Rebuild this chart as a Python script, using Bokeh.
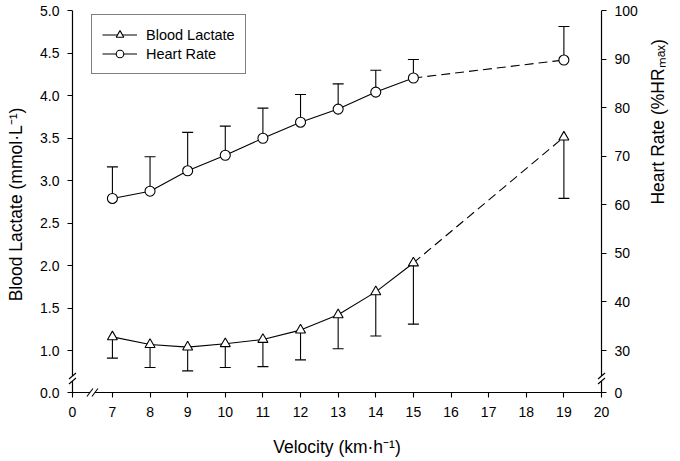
import math
from bokeh.plotting import figure
from bokeh.models import (Range1d, LinearAxis, FixedTicker, Legend, LegendItem)
from bokeh.embed import file_html
from bokeh.resources import INLINE

# ---------------- data ----------------
velocity = [7, 8, 9, 10, 11, 12, 13, 14, 15, 19]
lactate = [1.16, 1.07, 1.04, 1.08, 1.13, 1.24, 1.42, 1.69, 2.03, 3.51]
lactate_sd = [0.25, 0.27, 0.28, 0.28, 0.32, 0.35, 0.40, 0.52, 0.72, 0.72]
heart_rate = [61.3, 62.8, 67.0, 70.2, 73.7, 77.0, 79.7, 83.2, 86.1, 89.8]
heart_rate_sd = [6.5, 7.1, 7.9, 6.0, 6.2, 5.7, 5.2, 4.5, 3.8, 6.9]

x_ticks = [7, 8, 9, 10, 11, 12, 13, 14, 15, 16, 17, 18, 19, 20]
lactate_ticks = [1.0, 1.5, 2.0, 2.5, 3.0, 3.5, 4.0, 4.5, 5.0]
hr_ticks = [30, 40, 50, 60, 70, 80, 90, 100]
x_break_label = "0"
lactate_break_label = "0.0"
hr_break_label = "0"

x_title = "Velocity (km·h⁻¹)"
lactate_title = "Blood Lactate (mmol·L⁻¹)"
hr_title = "Heart Rate (%HRₘₐₓ)"

# ---------------- layout (canvas px) ----------------
W, H = 680, 461
AX_L, AX_R, AX_T, AX_B = 72, 602, 10, 392     # where the axis lines are drawn
PAD = 6                                         # frame reaches a little past the axis lines
BREAK_PX = 40                                   # gap between "0" and 7 on x
BREAK_PY = 42                                   # gap between "0.0" and 1.0 on y

sx = (AX_R - AX_L - BREAK_PX) / (20 - 7)
x_start = 7 - BREAK_PX / sx
sy = (AX_B - AX_T - BREAK_PY) / (5.0 - 1.0)
y_start = 1.0 - BREAK_PY / sy
hr_scale = (100 - 30) / (5.0 - 1.0)


def to_hr(v):
    return 30 + (v - 1.0) * hr_scale


xr = Range1d(x_start - PAD / sx, 20 + PAD / sx)
yr = Range1d(y_start - PAD / sy, 5.0)
hr_start = to_hr(y_start)

FL, FR, FT, FB = AX_L - PAD, AX_R + PAD, AX_T, AX_B + PAD


def xd(cx):
    return xr.start + (cx - FL) / sx


def yd(cy):
    return yr.start + (FB - cy) / sy


FONT = "Liberation Sans"
p = figure(width=W, height=H, x_range=xr, y_range=yr, output_backend="svg",
           toolbar_location=None, min_border_left=FL, min_border_right=W - FR,
           min_border_top=FT, min_border_bottom=H - FB)
p.extra_y_ranges = {"hr": Range1d(to_hr(yr.start), to_hr(yr.end))}
p.outline_line_color = None
p.xgrid.visible = False
p.ygrid.visible = False
p.background_fill_color = "white"
p.border_fill_color = "white"


def style_axis(ax, standoff, title, title_standoff):
    ax.axis_line_color = None            # drawn below, with the break
    ax.major_tick_line_color = "black"
    ax.major_tick_line_width = 1.1
    ax.major_tick_in = PAD               # ticks start at the drawn axis line
    ax.major_tick_out = 5 - PAD
    ax.minor_tick_out = 0
    ax.minor_tick_in = 0
    ax.minor_tick_line_color = None
    ax.major_label_text_font = FONT
    ax.major_label_text_font_size = "14px"
    ax.major_label_text_color = "black"
    ax.major_label_standoff = standoff
    ax.axis_label = title
    ax.axis_label_text_font = FONT
    ax.axis_label_text_font_size = "17.5px"
    ax.axis_label_text_font_style = "normal"
    ax.axis_label_text_color = "black"
    ax.axis_label_standoff = title_standoff


xa = p.xaxis[0]
xa.ticker = FixedTicker(ticks=[x_start] + x_ticks)
ov = {x_start: x_break_label}
ov.update({t: str(t) for t in x_ticks})
xa.major_label_overrides = ov
style_axis(xa, 8, x_title, 17)

ya = p.yaxis[0]
ya.ticker = FixedTicker(ticks=[y_start] + lactate_ticks)
ov = {y_start: lactate_break_label}
ov.update({t: "%.1f" % t for t in lactate_ticks})
ya.major_label_overrides = ov
style_axis(ya, 7, lactate_title, 11)

ra = LinearAxis(y_range_name="hr", ticker=FixedTicker(ticks=[hr_start] + hr_ticks))
ov = {hr_start: hr_break_label}
ov.update({t: str(t) for t in hr_ticks})
ra.major_label_overrides = ov
style_axis(ra, 7, hr_title, 17)
ra.axis_label_orientation = math.pi / 2   # read bottom to top, like the left title
p.add_layout(ra, "right")

# ---------------- axis lines with breaks ----------------
AXW = 1.2
gy0, gy1 = 378 + 2.5, 378 - 2.5       # vertical-axis break (canvas y)
gx0, gx1 = 92 - 2.5, 92 + 2.5         # x-axis break (canvas x)
ax_x0 = [xd(AX_L), xd(AX_L), xd(AX_R), xd(AX_R), xd(AX_L), xd(gx1)]
ax_y0 = [yd(AX_B), yd(gy1), yd(AX_B), yd(gy1), yd(AX_B), yd(AX_B)]
ax_x1 = [xd(AX_L), xd(AX_L), xd(AX_R), xd(AX_R), xd(gx0), xd(AX_R)]
ax_y1 = [yd(gy0), yd(AX_T), yd(gy0), yd(AX_T), yd(AX_B), yd(AX_B)]
p.segment(x0=ax_x0, y0=ax_y0, x1=ax_x1, y1=ax_y1, line_color="black", line_width=AXW)

# break slashes
bx0, by0, bx1, by1 = [], [], [], []
for cx in (AX_L, AX_R):
    for cy in (gy0, gy1):
        bx0.append(xd(cx - 3.5)); by0.append(yd(cy + 3))
        bx1.append(xd(cx + 3.5)); by1.append(yd(cy - 3))
for cx in (gx0, gx1):
    bx0.append(xd(cx - 3)); by0.append(yd(AX_B + 4))
    bx1.append(xd(cx + 3)); by1.append(yd(AX_B - 4))
p.segment(x0=bx0, y0=by0, x1=bx1, y1=by1, line_color="black", line_width=1.1)

# ---------------- series ----------------
n_solid = 9   # points up to 15 km/h joined by a solid line, the last by a dashed one
lac_low = [m - s for m, s in zip(lactate, lactate_sd)]
hr_high = [m + s for m, s in zip(heart_rate, heart_rate_sd)]

p.segment(x0=velocity, y0=lactate, x1=velocity, y1=lac_low,
          line_color="black", line_width=1.1)
p.scatter(x=velocity, y=lac_low, marker="dash", size=11,
          line_color="black", line_width=1.1)
p.segment(x0=velocity, y0=heart_rate, x1=velocity, y1=hr_high,
          line_color="black", line_width=1.1, y_range_name="hr")
p.scatter(x=velocity, y=hr_high, marker="dash", size=11,
          line_color="black", line_width=1.1, y_range_name="hr")

lac_line = p.line(velocity[:n_solid], lactate[:n_solid], line_color="black", line_width=1.1)
p.line(velocity[n_solid - 1:], lactate[n_solid - 1:], line_color="black",
       line_width=1.1, line_dash="9 5")
hr_line = p.line(velocity[:n_solid], heart_rate[:n_solid], line_color="black",
                 line_width=1.1, y_range_name="hr")
p.line(velocity[n_solid - 1:], heart_rate[n_solid - 1:], line_color="black",
       line_width=1.1, line_dash="9 5", y_range_name="hr")

lac_pts = p.scatter(velocity, lactate, marker="triangle", size=10,
                    fill_color="white", line_color="black", line_width=1.1)
hr_pts = p.scatter(velocity, heart_rate, marker="circle", size=10,
                   fill_color="white", line_color="black", line_width=1.1,
                   y_range_name="hr")

# ---------------- legend ----------------
legend = Legend(items=[LegendItem(label="Blood Lactate", renderers=[lac_line, lac_pts]),
                       LegendItem(label="Heart Rate", renderers=[hr_line, hr_pts])],
                location=(91 - FL, FB - 74))
legend.border_line_color = "black"
legend.border_line_width = 1
legend.background_fill_color = "white"
legend.background_fill_alpha = 1
legend.padding = 10
legend.spacing = 0
legend.margin = 0
legend.glyph_width = 35
legend.glyph_height = 19
legend.label_height = 19
legend.label_standoff = 9
legend.label_text_font = FONT
legend.label_text_font_size = "14.5px"
legend.label_text_color = "black"
p.add_layout(legend)

open("out.html", "w").write(file_html(p, INLINE))
